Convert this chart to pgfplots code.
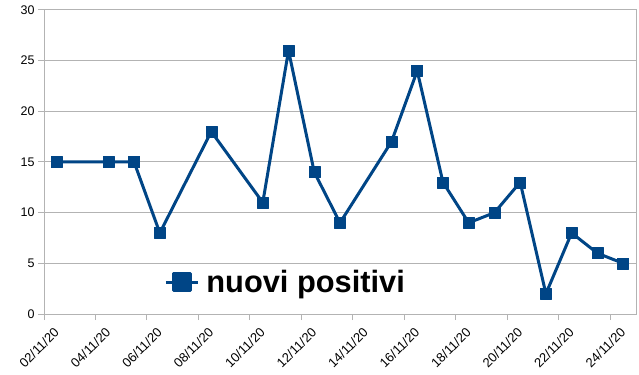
\documentclass[border=0pt]{standalone}
\usepackage{fontspec}
\setmainfont{Liberation Sans}
\usepackage{pgfplots}
\pgfplotsset{compat=1.18}
\definecolor{lo}{HTML}{004586}
\definecolor{gr}{HTML}{B3B3B3}
\begin{document}
\begin{tikzpicture}
\begin{axis}[
  at={(44bp,61bp)}, anchor=south west,
  scale only axis, width=592bp, height=304bp,
  xmin=0, xmax=23, ymin=0, ymax=30,
  xtick={0,2,...,22},
  xticklabels={02/11/20,04/11/20,06/11/20,08/11/20,10/11/20,12/11/20,14/11/20,16/11/20,18/11/20,20/11/20,22/11/20,24/11/20},
  ytick={0,5,...,30},
  ymajorgrids, major grid style={gr, line width=1bp},
  axis line style={gr, line width=1bp},
  tick style={gr, line width=1bp},
  major tick length=6bp,
  tick align=outside,
  xtick pos=bottom, ytick pos=left,
  /pgf/number format/assume math mode=true,
  ticklabel style={font=\fontsize{12.5bp}{15bp}\selectfont, text=black},
  x tick label style={font=\fontsize{13bp}{15bp}\selectfont, rotate=45, anchor=north east, inner sep=0pt, xshift=2bp, yshift=-11bp},
  legend style={at={(0.203,0.105)}, anchor=west, draw=none, fill=none, inner sep=0pt,
    font=\bfseries\fontsize{30.8bp}{36bp}\selectfont, column sep=7bp, nodes={inner sep=0pt}},
  legend cell align=left,
  legend image code/.code={\draw[lo, line width=3bp] (0bp,0bp) -- (32bp,0bp); \fill[lo] (7.5bp,-8.5bp) rectangle (24.5bp,8.5bp);},
]
\addplot[lo, line width=3bp, line join=round, mark=square*, mark size=5.5bp, mark options={solid, fill=lo, line width=0.5bp}]
coordinates {(0.5,15) (2.5,15) (3.5,15) (4.5,8) (6.5,18) (8.5,11) (9.5,26) (10.5,14) (11.5,9) (13.5,17) (14.5,24) (15.5,13) (16.5,9) (17.5,10) (18.5,13) (19.5,2) (20.5,8) (21.5,6) (22.5,5)};
\addlegendentry{nuovi positivi}
\end{axis}
\pgfresetboundingbox
\path[use as bounding box] (0,0) rectangle (639bp,375bp);
\end{tikzpicture}
\end{document}
